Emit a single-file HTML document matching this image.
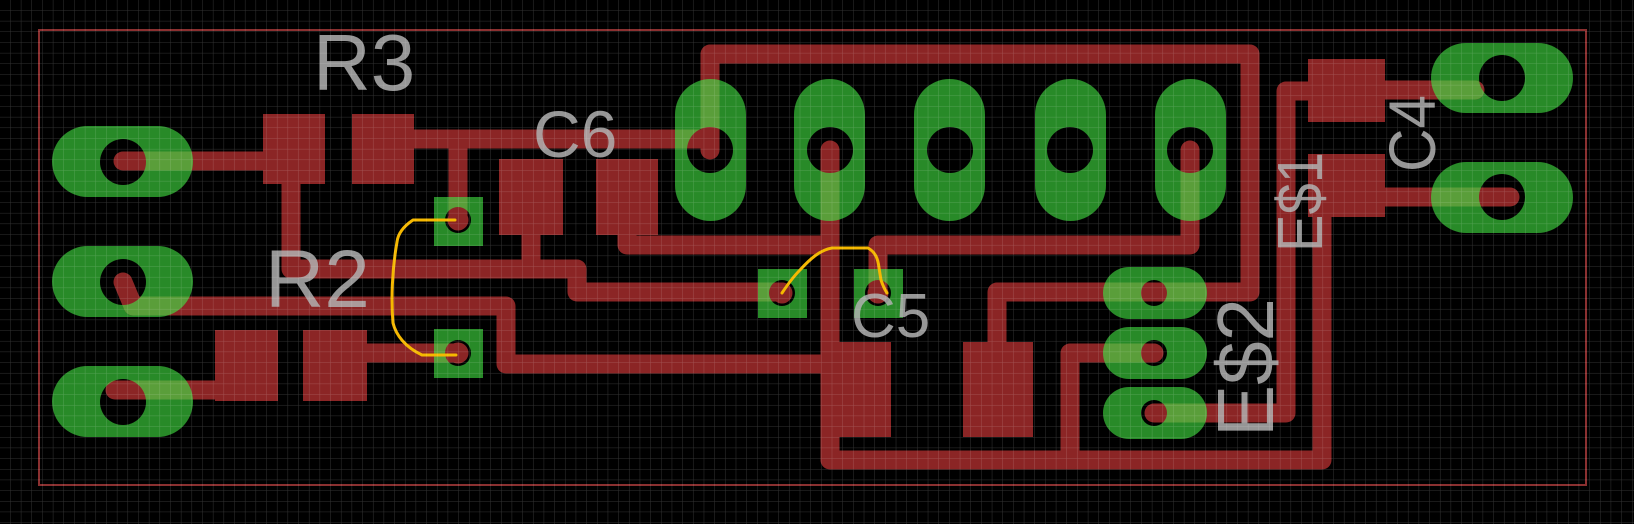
<!DOCTYPE html>
<html><head><meta charset="utf-8"><style>
html,body{margin:0;padding:0;background:#000;}
svg{display:block;}
text{font-family:"Liberation Sans",sans-serif;}
</style></head><body>
<svg width="1634" height="524" viewBox="0 0 1634 524" xmlns="http://www.w3.org/2000/svg">
<defs>
<pattern id="grid" width="10.67" height="10.67" patternUnits="userSpaceOnUse">
<path d="M10.67 0V10.67M0 10.67H10.67" stroke="#fff" stroke-opacity="0.2" stroke-width="1" fill="none"/>
</pattern>
<g id="pads">
<rect x="52" y="126" width="141" height="71" rx="35.5"/>
<rect x="52" y="246" width="141" height="71" rx="35.5"/>
<rect x="52" y="366" width="141" height="71" rx="35.5"/>
<rect x="1431" y="43" width="142" height="70" rx="35"/>
<rect x="1431" y="162" width="142" height="71" rx="35.5"/>
<rect x="675" y="79" width="71" height="142" rx="35.5"/>
<rect x="794" y="79" width="71" height="142" rx="35.5"/>
<rect x="914" y="79" width="71" height="142" rx="35.5"/>
<rect x="1035" y="79" width="71" height="142" rx="35.5"/>
<rect x="1155" y="79" width="71" height="142" rx="35.5"/>
<rect x="1103" y="267" width="104" height="52" rx="26"/>
<rect x="1103" y="327" width="104" height="52" rx="26"/>
<rect x="1103" y="387" width="104" height="52" rx="26"/>
<rect x="434" y="197" width="49" height="49"/>
<rect x="434" y="329" width="49" height="49"/>
<rect x="758" y="269" width="49" height="49"/>
<rect x="854" y="269" width="49" height="49"/>
</g>
<g id="holes">
<circle cx="123" cy="162" r="23"/><circle cx="123" cy="282" r="23"/><circle cx="123" cy="402" r="23"/>
<circle cx="1502" cy="78" r="23"/><circle cx="1502" cy="197" r="23"/>
<circle cx="710" cy="150" r="23"/><circle cx="830" cy="150" r="23"/><circle cx="950" cy="150" r="23"/>
<circle cx="1070" cy="150" r="23"/><circle cx="1190" cy="150" r="23"/>
<circle cx="1154" cy="293" r="13"/><circle cx="1154" cy="353" r="13"/><circle cx="1154" cy="413" r="13"/>
<circle cx="458" cy="220" r="13"/><circle cx="458" cy="353" r="13"/><circle cx="782" cy="293" r="13"/><circle cx="878" cy="293" r="13"/>
</g>
<g id="traces" fill="none" stroke-width="19" stroke-linejoin="round" stroke-linecap="round">
<path d="M123 161H263"/>
<path d="M291 184V269H577V292H782"/>
<path d="M414 139H710"/>
<path d="M458 139V220"/>
<path d="M710 150V54H1250V292H997V342"/>
<path d="M531 235V269"/>
<path d="M627 235V245H830"/>
<path d="M830 150V460H1322V207"/>
<path d="M1385 90H1475"/>
<path d="M1385 197H1510"/>
<path d="M123 282L133 306H506V364H821"/>
<path d="M367 353H458"/>
<path d="M115 390H215"/>
<path d="M878 293V245H1190V150"/>
<path d="M1154 353H1070V460"/>
<path d="M1154 413H1286V91H1308"/>
</g>
<g id="smd">
<rect x="263" y="114" width="62" height="70"/>
<rect x="352" y="114" width="62" height="70"/>
<rect x="215" y="330" width="63" height="71"/>
<rect x="303" y="330" width="64" height="71"/>
<rect x="499" y="159" width="64" height="76"/>
<rect x="596" y="159" width="62" height="76"/>
<rect x="821" y="342" width="70" height="95"/>
<rect x="963" y="342" width="70" height="95"/>
<rect x="1308" y="59" width="77" height="63"/>
<rect x="1308" y="154" width="77" height="63"/>
</g>
<mask id="padmask">
<use href="#pads" fill="#fff"/>
<use href="#holes" fill="#000"/>
</mask>
</defs>
<rect width="1634" height="524" fill="#000"/>
<use href="#pads" fill="#288a28"/>
<use href="#holes" fill="#000"/>
<use href="#traces" stroke="#8b2525"/>
<use href="#smd" fill="#8b2525"/>
<g mask="url(#padmask)">
<use href="#traces" stroke="#5a9e3a"/>
</g>
<g fill="#8b2525">
<circle cx="458" cy="220" r="10.5"/><circle cx="458" cy="353" r="10.5"/><circle cx="782" cy="293" r="10.5"/><circle cx="878" cy="293" r="10.5"/>
</g>
<rect x="39" y="30" width="1547" height="455" fill="none" stroke="#8b3030" stroke-width="2"/>
<g fill="#b0b0b0" fill-opacity="0.85">
<text x="313" y="90" font-size="80">R3</text>
<text x="265" y="307" font-size="82">R2</text>
<text x="533" y="157" font-size="66">C6</text>
<text x="851" y="337" font-size="62">C5</text>
<text transform="translate(1435,172) rotate(-90)" font-size="66" textLength="77" lengthAdjust="spacingAndGlyphs">C4</text>
<text transform="translate(1322,252) rotate(-90)" font-size="64" textLength="100" lengthAdjust="spacingAndGlyphs">E$1</text>
<text transform="translate(1273,437) rotate(-90)" font-size="80" textLength="139" lengthAdjust="spacingAndGlyphs">E$2</text>
</g>
<g fill="none" stroke="#f5b800" stroke-width="3" stroke-linecap="round" stroke-linejoin="round">
<path d="M455 220H413C404 226 398 233 397 242C392 270 391 300 393 323C396 335 405 347 422 355H456"/>
<path d="M782 293C788 284 794 276 800 270C810 259 820 250 832 248H868C875 252 878 258 879 268L881 280C883 286 885 290 887 293"/>
</g>
<rect width="1634" height="524" fill="url(#grid)"/>
</svg>
</body></html>
